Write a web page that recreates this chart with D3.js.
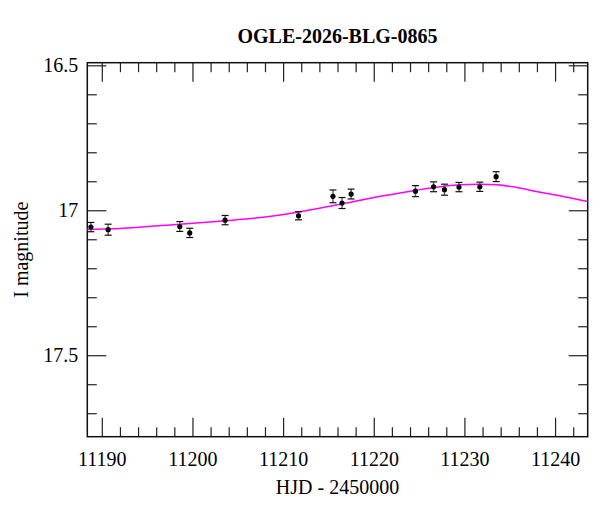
<!DOCTYPE html>
<html>
<head>
<meta charset="utf-8">
<script src="https://cdn.jsdelivr.net/npm/d3@7"></script>
<style>
    body { margin: 0; background: #fff; }
    svg text { font-family: "Liberation Serif", "DejaVu Serif", serif; fill: #000; }
</style>
</head>
<body>
<div id="chart"></div>
<script>
// photometry
var hjd = [11188.8, 11190.7, 11198.6, 11199.7, 11203.6, 11211.7, 11215.5, 11216.5, 11217.5,
    11224.6, 11226.6, 11227.8, 11229.4, 11231.7, 11233.5];
var mag = [17.058, 17.067, 17.056, 17.078, 17.034, 17.019, 16.952, 16.975, 16.944,
    16.934, 16.919, 16.929, 16.920, 16.919, 16.884];
var err = [0.016, 0.019, 0.017, 0.016, 0.016, 0.014, 0.022, 0.019, 0.017,
    0.019, 0.017, 0.019, 0.016, 0.016, 0.017];

// model curve, sampled along the magenta line
var modelT = [11188.4, 11192, 11198.6, 11203.7, 11207.5, 11211.7, 11216.5, 11220, 11224.5,
    11226.5, 11229.5, 11231.6, 11233.6, 11235.5, 11238.4, 11241.3, 11243.6];
var modelM = [17.066, 17.063, 17.048, 17.036, 17.025, 17.006, 16.978, 16.956, 16.932,
    16.922, 16.912, 16.910, 16.912, 16.920, 16.938, 16.955, 16.970];

var xMajor = [11190, 11200, 11210, 11220, 11230, 11240];
var yMajor = [16.5, 17, 17.5];

var W = 600, H = 512;
// frame edges (note: "top" is reserved on window, so pL/pR/pT/pB)
var pL = 87.3, pR = 587.7, pT = 62.7, pB = 436.7;

var svg = d3.select("#chart").append("svg").attr("width", W).attr("height", H);

var x = d3.scaleLinear().domain([11188.4, 11243.6]).range([pL, pR]);
var y = d3.scaleLinear().domain([16.491, 17.781]).range([pT, pB]);

var xMinor = d3.range(11190, 11244, 2).filter(function (d) { return xMajor.indexOf(d) < 0; });
var yMinor = d3.range(16.5, 17.79, 0.1).map(function (d) { return +d.toFixed(1); })
    .filter(function (d) { return yMajor.indexOf(d) < 0; });

// ticks on four sides, all pointing inward
function addAxis(gen, tr, vals, size, fmt) {
    var g = svg.append("g").attr("transform", tr)
        .call(gen.tickValues(vals).tickSize(size).tickSizeOuter(0).tickFormat(fmt || ""));
    g.select(".domain").remove();
    g.selectAll(".tick line").attr("stroke", "#222").attr("stroke-width", 1.2);
    return g;
}

var bx = addAxis(d3.axisBottom(x), "translate(0," + pB + ")", xMajor, -19, d3.format("d"));
bx.selectAll("text").attr("y", 15).attr("dy", "0.71em").style("font-size", "20px");
addAxis(d3.axisBottom(x), "translate(0," + pB + ")", xMinor, -9.5);
addAxis(d3.axisTop(x), "translate(0," + pT + ")", xMajor, -19);
addAxis(d3.axisTop(x), "translate(0," + pT + ")", xMinor, -9.5);

var ly = addAxis(d3.axisLeft(y), "translate(" + pL + ",0)", yMajor, -19, function (d) { return String(d); });
ly.selectAll("text").attr("x", -9).style("font-size", "20px");
addAxis(d3.axisLeft(y), "translate(" + pL + ",0)", yMinor, -9.5);
addAxis(d3.axisRight(y), "translate(" + pR + ",0)", yMajor, -19);
addAxis(d3.axisRight(y), "translate(" + pR + ",0)", yMinor, -9.5);

svg.append("rect")
    .attr("x", pL).attr("y", pT)
    .attr("width", pR - pL).attr("height", pB - pT)
    .attr("fill", "none").attr("stroke", "#111").attr("stroke-width", 1.5);

// model
var line = d3.line()
    .x(function (d, i) { return x(modelT[i]); })
    .y(function (d, i) { return y(modelM[i]); })
    .curve(d3.curveCatmullRom.alpha(0.5));
svg.append("path").datum(modelT)
    .attr("d", line)
    .attr("fill", "none").attr("stroke", "#ff00ff").attr("stroke-width", 1.5);

// data with error bars
var pts = svg.append("g").selectAll("g").data(hjd).enter().append("g");
pts.append("line")
    .attr("x1", function (d) { return x(d); }).attr("x2", function (d) { return x(d); })
    .attr("y1", function (d, i) { return y(mag[i] - err[i]); })
    .attr("y2", function (d, i) { return y(mag[i] + err[i]); })
    .attr("stroke", "#666").attr("stroke-width", 1.5);
[-1, 1].forEach(function (s) {
    pts.append("line")
        .attr("x1", function (d) { return x(d) - 3.5; }).attr("x2", function (d) { return x(d) + 3.5; })
        .attr("y1", function (d, i) { return y(mag[i] + s * err[i]); })
        .attr("y2", function (d, i) { return y(mag[i] + s * err[i]); })
        .attr("stroke", "#111").attr("stroke-width", 1.2);
});
pts.append("circle")
    .attr("cx", function (d) { return x(d); })
    .attr("cy", function (d, i) { return y(mag[i]); })
    .attr("r", 2.6).attr("fill", "#000");

// labels
svg.append("text").attr("x", (pL + pR) / 2).attr("y", 43)
    .attr("text-anchor", "middle").style("font-size", "20px").style("font-weight", "bold")
    .text("OGLE-2026-BLG-0865");
svg.append("text").attr("x", (pL + pR) / 2).attr("y", 494)
    .attr("text-anchor", "middle").style("font-size", "20px")
    .text("HJD - 2450000");
svg.append("text")
    .attr("transform", "translate(28," + ((pT + pB) / 2) + ") rotate(-90)")
    .attr("text-anchor", "middle").style("font-size", "20px")
    .text("I magnitude");
</script>
</body>
</html>
